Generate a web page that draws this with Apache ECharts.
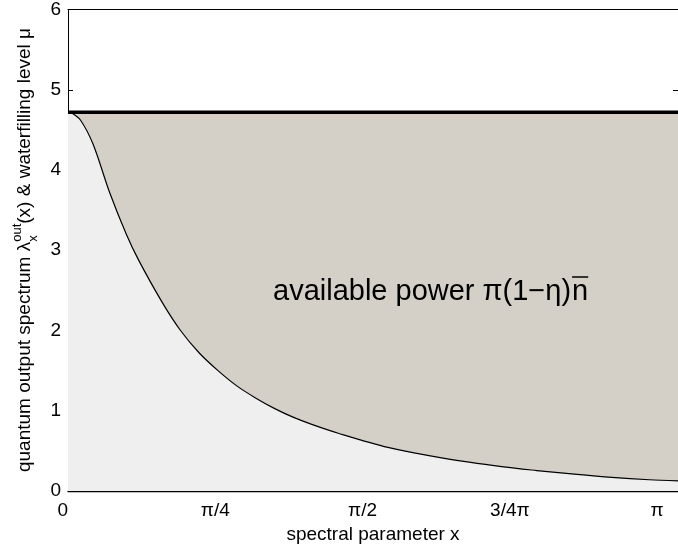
<!DOCTYPE html>
<html>
<head>
<meta charset="utf-8">
<script src="https://cdn.jsdelivr.net/npm/echarts@6/dist/echarts.min.js"></script>
<style>
html,body{margin:0;padding:0;background:#fff;}
#chart{width:678px;height:550px;}
</style>
</head>
<body>
<div id="chart"></div>
<script>
// ---- data ----
const xRad = [0, 0.02, 0.067, 0.134, 0.222, 0.311, 0.376, 0.5, 0.6, 0.7, 0.8, 0.9, 1.0, 1.1, 1.2, 1.3, 1.441, 1.706, 2.0, 2.323, 2.5, 2.7, 2.9, 3.1, 3.253];
const lambdaOut = [4.72, 4.71, 4.62, 4.32, 3.72, 3.20, 2.88, 2.36, 2.0, 1.72, 1.5, 1.31, 1.16, 1.03, 0.92, 0.83, 0.72, 0.543, 0.41, 0.30, 0.255, 0.21, 0.17, 0.14, 0.125];
const muLevel = 4.72;
const muX = [0, 3.253];
const xTickLabels = ['0', 'π/4', 'π/2', '3/4π', 'π'];
const yTicks = [0, 1, 2, 3, 4, 5, 6];

const FONT = '"Liberation Sans", Arial, Helvetica, sans-serif';
const ctx2d = document.createElement('canvas').getContext('2d');
function tw(s, size) { ctx2d.font = size + 'px ' + FONT; return ctx2d.measureText(s).width; }

const curveData = xRad.map((x, i) => [x, lambdaOut[i]]);
const muData = muX.map(x => [x, muLevel]);

const chart = echarts.init(document.getElementById('chart'), null, {renderer: 'canvas'});

// y-axis title pieces
const yt1 = 'quantum output spectrum λ';
const ytSup = 'out';
const ytSub = 'x';
const yt2 = '(x) & waterfilling level μ';
const YFS = 19, YSS = 13;
const w1 = tw(yt1, YFS), wS = Math.max(tw(ytSup, YSS), tw(ytSub, YSS)), w2 = tw(yt2, YFS);
const Wt = w1 + wS + w2;

// annotation pieces
const ann1 = 'available power π(1−η)';
const ann2 = 'n';
const AFS = 29;
const aw1 = tw(ann1, AFS), aw2 = tw(ann2, AFS);
const annX = 273, annY = 292;

const option = {
  animation: false,
  grid: {left: 68, top: 8, right: -4, bottom: 59, containLabel: false},
  xAxis: [{
    type: 'value', min: 0, max: 3.253, interval: Math.PI / 4,
    axisLine: {show: true, lineStyle: {color: '#000', width: 1.3}},
    axisTick: {show: false},
    splitLine: {show: false},
    axisLabel: {
      color: '#000', fontSize: 19, fontFamily: FONT, margin: 10, showMaxLabel: false,
      alignMinLabel: 'right',
      formatter: v => { const k = Math.round(v / (Math.PI / 4)); return Math.abs(k * Math.PI / 4 - v) < 1e-6 ? (xTickLabels[k] || '') : ''; }
    },
    name: 'spectral parameter x', nameLocation: 'middle', nameGap: 31,
    nameTextStyle: {color: '#000', fontSize: 19, fontFamily: FONT}
  }, {
    type: 'value', position: 'top', min: 0, max: 3.253,
    axisLine: {show: true, onZero: false, lineStyle: {color: '#000', width: 1}},
    axisTick: {show: false}, axisLabel: {show: false}, splitLine: {show: false}
  }],
  yAxis: [{
    type: 'value', min: 0, max: 6, interval: 1,
    axisLine: {show: true, onZero: false, lineStyle: {color: '#000', width: 1}},
    axisTick: {show: true, inside: true, length: 5, lineStyle: {color: '#000'}},
    splitLine: {show: false},
    axisLabel: {color: '#000', fontSize: 19, fontFamily: FONT, margin: 7,
      formatter: v => yTicks.indexOf(v) >= 0 ? String(v) : ''}
  }, {
    type: 'value', position: 'right', min: 0, max: 6, interval: 1,
    axisLine: {show: true, onZero: false, lineStyle: {color: '#000', width: 1}},
    axisTick: {show: true, inside: true, length: 5, lineStyle: {color: '#000'}},
    axisLabel: {show: false}, splitLine: {show: false}
  }],
  series: [{
    type: 'line', data: muData, symbol: 'none', silent: true, z: 1,
    lineStyle: {width: 0, opacity: 0},
    areaStyle: {color: '#d4d0c8', opacity: 1}
  }, {
    type: 'line', data: curveData, symbol: 'none', smooth: 0.3, silent: true, z: 2,
    lineStyle: {color: '#000', width: 1.2},
    areaStyle: {color: '#efefef', opacity: 1}
  }, {
    type: 'line', data: muData, symbol: 'none', silent: true, z: 3,
    lineStyle: {color: '#000', width: 3.5}
  }],
  graphic: {
    elements: [{
      type: 'group', x: 25, y: 250, rotation: Math.PI / 2, z: 100,
      children: [
        {type: 'text', z: 100, x: -Wt / 2, y: 0, style: {text: yt1, fontSize: YFS, fontFamily: FONT, fill: '#000', verticalAlign: 'middle', align: 'left'}},
        {type: 'text', z: 100, x: -Wt / 2 + w1, y: -8, style: {text: ytSup, fontSize: YSS, fontFamily: FONT, fill: '#000', verticalAlign: 'middle', align: 'left'}},
        {type: 'text', z: 100, x: -Wt / 2 + w1, y: 8, style: {text: ytSub, fontSize: YSS, fontFamily: FONT, fill: '#000', verticalAlign: 'middle', align: 'left'}},
        {type: 'text', z: 100, x: -Wt / 2 + w1 + wS, y: 0, style: {text: yt2, fontSize: YFS, fontFamily: FONT, fill: '#000', verticalAlign: 'middle', align: 'left'}}
      ]
    }, {
      type: 'text', z: 100, x: annX, y: annY,
      style: {text: ann1, fontSize: AFS, fontFamily: FONT, fill: '#000', verticalAlign: 'middle', align: 'left'}
    }, {
      type: 'text', z: 100, x: annX + aw1 + 1, y: annY,
      style: {text: ann2, fontSize: AFS, fontFamily: FONT, fill: '#000', verticalAlign: 'middle', align: 'left'}
    }, {
      type: 'line', z: 100, shape: {x1: annX + aw1 + 1, y1: annY - 15, x2: annX + aw1 + 1 + aw2, y2: annY - 15},
      style: {stroke: '#000', lineWidth: 1.5}
    }]
  }
};
chart.setOption(option);
</script>
</body>
</html>
